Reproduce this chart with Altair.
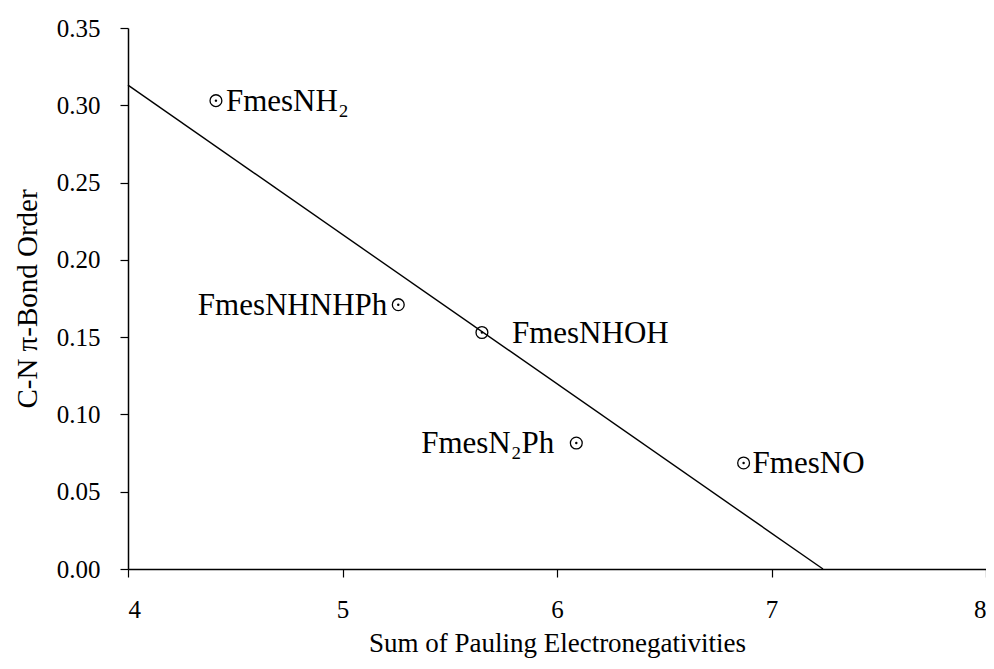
import altair as alt
import pandas as pd

names = ["FmesNH\u2082", "FmesNHNHPh", "FmesNHOH", "FmesN\u2082Ph", "FmesNO"]
xs = [4.41, 5.26, 5.65, 6.09, 6.87]
ys = [0.303, 0.171, 0.153, 0.0815, 0.0686]

line_x = [4.0, 7.24]
line_y = [0.313, 0.0]

x_ticks = [4, 5, 6, 7, 8]
y_ticks = [0.0, 0.05, 0.10, 0.15, 0.20, 0.25, 0.30, 0.35]

FONT = "Liberation Serif"

pts = pd.DataFrame({"name": names, "x": xs, "y": ys})
ln = pd.DataFrame({"x": line_x, "y": line_y})

xscale = alt.Scale(domain=[4, 8], nice=False, zero=False)
yscale = alt.Scale(domain=[0, 0.35], nice=False, zero=False)

xaxis = alt.Axis(values=x_ticks, format="d", title="Sum of Pauling Electronegativities",
                 grid=False, domainColor="black", domainWidth=1.5, tickColor="black",
                 tickSize=8, tickWidth=1.2, labelFont=FONT, labelFontSize=25,
                 labelColor="black", labelPadding=20, titleFont=FONT, titleFontSize=27,
                 titleFontWeight="normal", titleColor="black", titlePadding=8)
yaxis = alt.Axis(values=y_ticks, format=".2f", title="C-N \u03c0-Bond Order",
                 grid=False, domainColor="black", domainWidth=1.5, tickColor="black",
                 tickSize=8, tickWidth=1.2, labelFont=FONT, labelFontSize=25,
                 labelColor="black", labelPadding=20, titleFont=FONT, titleFontSize=29,
                 titleFontWeight="normal", titleColor="black", titlePadding=14)

base_x = alt.X("x:Q", scale=xscale, axis=xaxis)
base_y = alt.Y("y:Q", scale=yscale, axis=yaxis)

line = alt.Chart(ln).mark_line(color="black", strokeWidth=1.4).encode(x=base_x, y=base_y)

ring = alt.Chart(pts).mark_point(shape="circle", filled=False, size=140, color="black",
                                 strokeWidth=1.3, opacity=1).encode(
    x=alt.X("x:Q", scale=xscale), y=alt.Y("y:Q", scale=yscale))
dot = alt.Chart(pts).mark_circle(size=6, color="black", opacity=1).encode(
    x=alt.X("x:Q", scale=xscale), y=alt.Y("y:Q", scale=yscale))

label_offsets = {names[0]: ("left", 10), names[1]: ("right", -11), names[2]: ("left", 30),
                 names[3]: ("right", -22), names[4]: ("left", 9)}

texts = []
for nm in names:
    al, dx = label_offsets[nm]
    t = alt.Chart(pts).transform_filter(alt.datum.name == nm).mark_text(
        align=al, baseline="middle", dx=dx, dy=1, font=FONT, fontSize=31, color="black"
    ).encode(x=alt.X("x:Q", scale=xscale), y=alt.Y("y:Q", scale=yscale), text="name:N")
    texts.append(t)

chart = alt.layer(line, ring, dot, *texts).properties(
    width=858, height=541,
    autosize=alt.AutoSizeParams(type="none"),
    padding={"left": 120, "top": 20, "right": 0, "bottom": 100},
    background="white",
).configure_view(stroke=None)

chart.save("out.html", embed_options={"renderer": "svg", "actions": False})
